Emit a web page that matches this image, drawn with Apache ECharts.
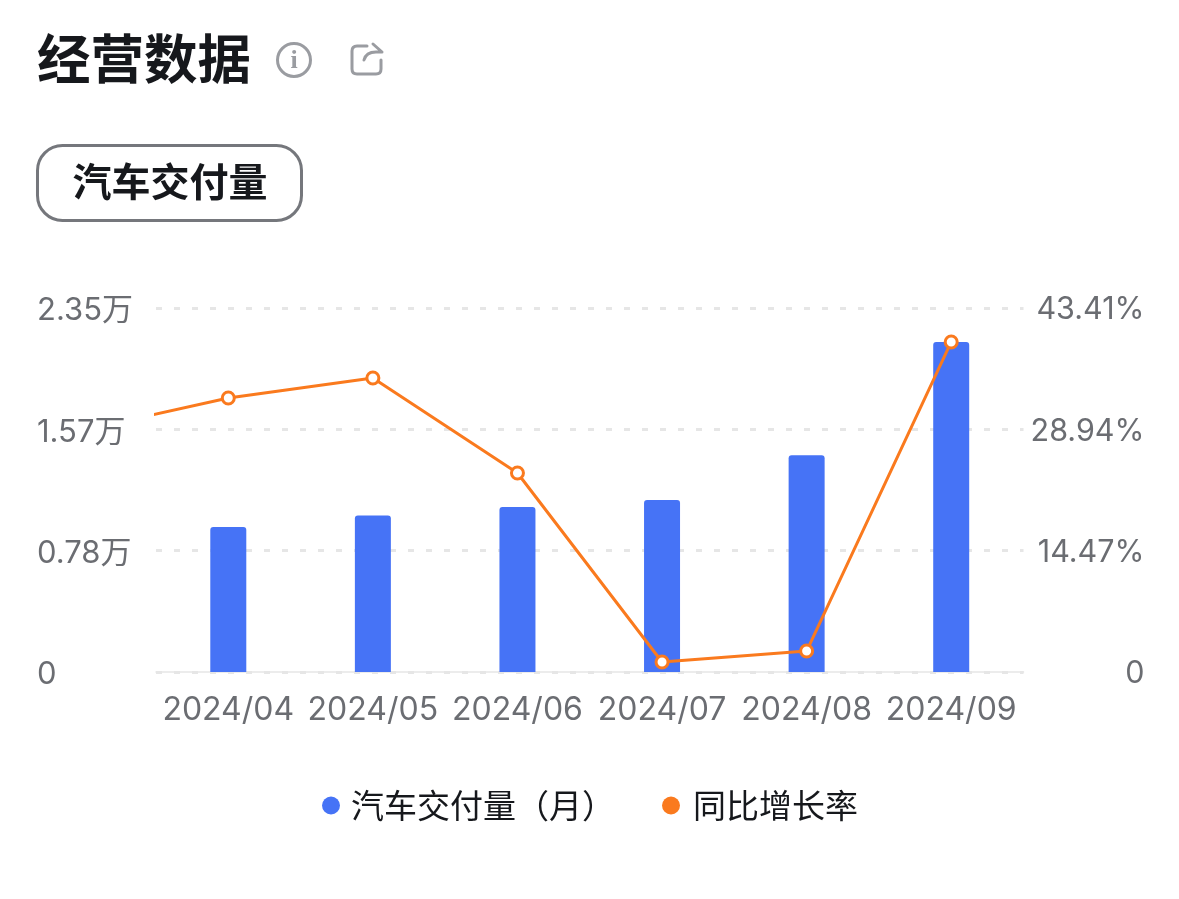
<!DOCTYPE html>
<html>
<head>
<meta charset="utf-8">
<title>经营数据</title>
<style>
  html, body { margin: 0; padding: 0; background: #fff; }
  #chart { width: 1179px; height: 899px; }
</style>
<script src="https://cdn.jsdelivr.net/npm/echarts@6/dist/echarts.min.js"></script>
</head>
<body>
<div id="chart"></div>
<script>
// 2024/03 只用来画折线左侧被裁掉的那一段
const months = ["2024/03", "2024/04", "2024/05", "2024/06", "2024/07", "2024/08", "2024/09"];
const deliveries = [null, 9360, 10100, 10650, 11100, 14000, 21300];
const growth = [28.86, 32.68, 35.06, 23.73, 1.19, 2.5, 39.36];
const leftTicks = ["0", "0.78万", "1.57万", "2.35万"];
const rightTicks = ["0", "14.47%", "28.94%", "43.41%"];
const leftMax = 23500;
const rightMax = 43.41;

const font = "Inter, 'Noto Sans CJK SC', sans-serif";
const cjk = "'Noto Sans CJK SC', sans-serif";

// 分享图标
echarts.graphic.registerShape("shareIcon", echarts.graphic.extendShape({
  buildPath(ctx) {
    ctx.moveTo(367, 46);
    ctx.lineTo(357, 46);
    ctx.quadraticCurveTo(352, 46, 352, 51);
    ctx.lineTo(352, 69);
    ctx.quadraticCurveTo(352, 74, 357, 74);
    ctx.lineTo(376, 74);
    ctx.quadraticCurveTo(381, 74, 381, 69);
    ctx.lineTo(381, 60);
    ctx.moveTo(364, 60);
    ctx.quadraticCurveTo(366, 52, 376, 52);
    ctx.lineTo(382, 52);
    ctx.lineTo(373, 44);
  },
}));

const chart = echarts.init(document.getElementById("chart"), null, { renderer: "canvas" });
chart.setOption({
  backgroundColor: "#fff",
  animation: false,
  title: {
    text: "经营数据",
    left: 37,
    top: 32,
    padding: 0,
    textStyle: { fontFamily: cjk, fontSize: 53.5, fontWeight: 700, color: "#16181c" },
  },
  legend: {
    left: 322,
    top: 789,
    padding: 0,
    icon: "circle",
    itemWidth: 18,
    itemHeight: 18,
    itemGap: 47,
    textStyle: { fontFamily: cjk, fontSize: 33, color: "#16181c", padding: [0, 0, 0, 6] },
    data: [
      { name: "汽车交付量（月）" },
      {
        name: "同比增长率",
        itemStyle: { color: "#fa7a1e", borderWidth: 0 },
        textStyle: { padding: [0, 0, 0, 8] },
      },
    ],
  },
  grid: { left: 156, right: 155.5, top: 308, bottom: 227 },
  xAxis: {
    type: "category",
    data: months,
    min: 1,
    max: 6,
    axisTick: { show: false },
    axisLine: { lineStyle: { color: "#e6e6e6", width: 1.5 } },
    axisLabel: { interval: 0, margin: 22, fontFamily: font, fontSize: 32, color: "#6b6d72" },
  },
  yAxis: [
    {
      type: "value",
      min: 0,
      max: leftMax,
      interval: leftMax / 3,
      axisLine: { show: false },
      axisTick: { show: false },
      splitLine: { lineStyle: { color: "#e6e6e6", width: 3, type: [6, 12] } },
      axisLabel: {
        margin: 119,
        align: "left",
        verticalAlign: "top",
        lineHeight: 6,
        fontFamily: font,
        fontSize: 31,
        color: "#6b6d72",
        formatter: (value, index) => leftTicks[index],
      },
    },
    {
      type: "value",
      min: 0,
      max: rightMax,
      interval: rightMax / 3,
      axisLine: { show: false },
      axisTick: { show: false },
      splitLine: { show: false },
      axisLabel: {
        margin: 121,
        align: "right",
        verticalAlign: "top",
        lineHeight: 4,
        fontFamily: font,
        fontSize: 30.5,
        color: "#6b6d72",
        formatter: (value, index) => rightTicks[index],
      },
    },
  ],
  series: [
    {
      name: "汽车交付量（月）",
      type: "bar",
      data: deliveries,
      barWidth: 36,
      itemStyle: { color: "#4673f6", borderRadius: [3, 3, 0, 0] },
    },
    {
      name: "同比增长率",
      type: "line",
      yAxisIndex: 1,
      data: growth,
      symbol: "circle",
      symbolSize: 12,
      showAllSymbol: true,
      lineStyle: { color: "#fa7a1e", width: 3 },
      itemStyle: { color: "#fff", borderColor: "#fa7a1e", borderWidth: 3 },
    },
  ],
  // 标题旁的图标和按钮
  graphic: [
    {
      type: "circle",
      shape: { cx: 294, cy: 60, r: 16.5 },
      style: { fill: "none", stroke: "#9a9ca1", lineWidth: 3 },
    },
    {
      type: "text",
      style: {
        x: 294,
        y: 61,
        text: "i",
        align: "center",
        verticalAlign: "middle",
        font: "700 26px 'Liberation Serif', serif",
        fill: "#9a9ca1",
      },
    },
    {
      type: "shareIcon",
      style: { fill: "none", stroke: "#9a9ca1", lineWidth: 3, lineCap: "round", lineJoin: "round" },
    },
    {
      type: "rect",
      shape: { x: 37.5, y: 145.5, width: 264, height: 75, r: 25 },
      style: { fill: "#fff", stroke: "#75777c", lineWidth: 3 },
    },
    {
      type: "text",
      style: {
        x: 170,
        y: 181,
        text: "汽车交付量",
        align: "center",
        verticalAlign: "middle",
        font: "600 39px 'Noto Sans CJK SC', sans-serif",
        fill: "#16181c",
      },
    },
  ],
});
</script>
</body>
</html>
